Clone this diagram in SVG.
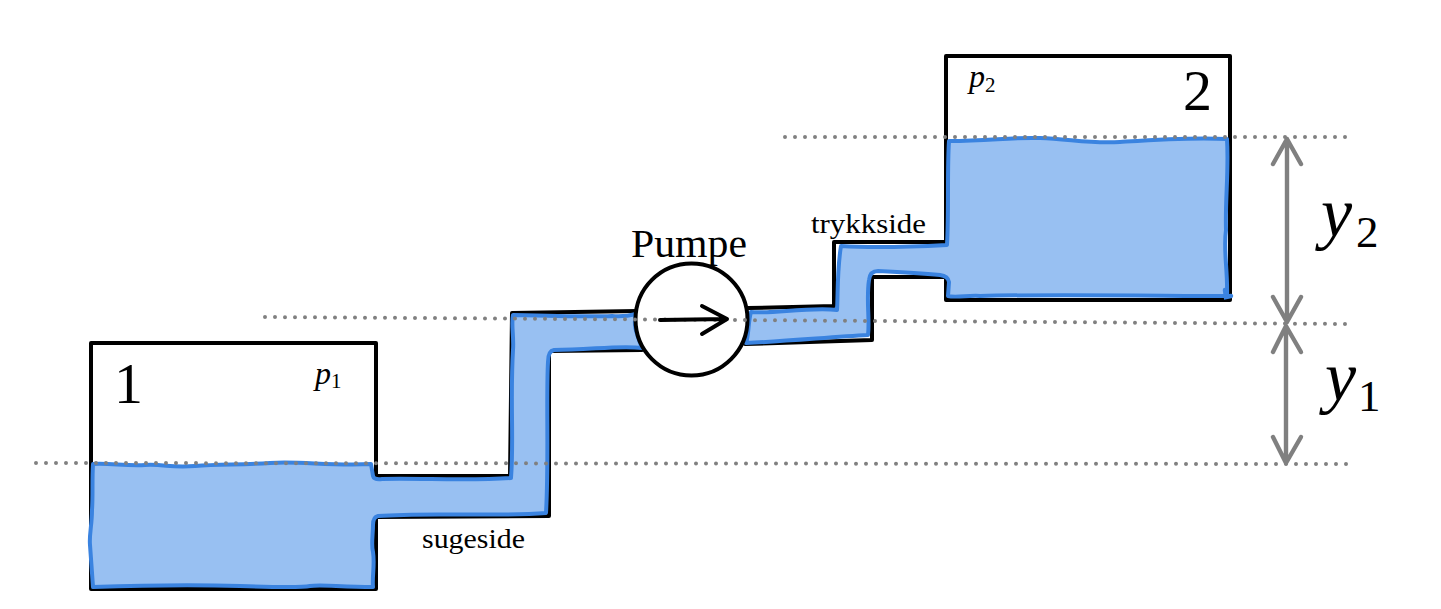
<svg xmlns="http://www.w3.org/2000/svg" width="1441" height="609" viewBox="0 0 1441 609">
<style>
.water{fill:#98c0f2;stroke:#3a83e0;stroke-width:4;stroke-linejoin:round;stroke-linecap:round}
.wall{fill:none;stroke:#000;stroke-width:4;stroke-linejoin:round;stroke-linecap:round}
.dots{fill:none;stroke:#808080;stroke-width:4;stroke-linecap:round;stroke-dasharray:0 10}
.dim{fill:none;stroke:#808080;stroke-width:4.4;stroke-linecap:round;stroke-linejoin:round}
text{font-family:"Liberation Serif","Times New Roman",serif;fill:#000}
.i{font-style:italic}
</style>
<rect width="1441" height="609" fill="#fff"/>
<g id="tank-1">
<path class="wall" d="M376 476V343H91V589H376V517"/>
<text x="114" y="403" font-size="58">1</text>
<text x="315" y="384" font-size="32" class="i">p</text>
<text x="331" y="388" font-size="21">1</text>
</g>
<g id="tank-2">
<path class="wall" d="M946 242V56H1230V300H946V277"/>
<text x="1183" y="110" font-size="58">2</text>
<text x="969" y="87" font-size="32" class="i">p</text>
<text x="985" y="92" font-size="21">2</text>
</g>
<g id="pipes">
<path class="wall" d="M376 476H510L512 313L637 311"/>
<path class="wall" d="M376 517L549 516V351L642 350"/>
<path class="wall" d="M748 308L834 306V242H946"/>
<path class="wall" d="M946 277H872V340L745 344"/>
<text x="422" y="548" font-size="28" textLength="103" lengthAdjust="spacingAndGlyphs">sugeside</text>
<text x="811" y="233" font-size="28" textLength="115" lengthAdjust="spacingAndGlyphs">trykkside</text>
</g>
<g id="water">
<path class="water" d="M93 464C110 463 125 466 145 465S170 468 195 466S240 465 270 463S330 466 371 464L373 476Q374 480 382 479C420 478 470 481 511 478C514 440 510 400 513 350C514 335 511 325 513 315C550 316 590 317 612 316Q625 317 636 314C633 325 636 332 642 348C620 345 590 350 554 350Q548 351 548 362C546 400 549 460 546 513C490 517 430 512 378 516Q373 517 373 525C373 535 371 545 373 552C375 565 372 575 373 587C340 587 320 584 310 586S270 587 240 586S150 585 93 587C92 572 91 560 90 545C89 535 92 525 92 510C93 495 92 480 93 464Z"/>
<path class="water" d="M751 312C770 314 810 307 837 310C838 295 837 270 841 246C870 248 910 247 947 245C949 210 947 170 949 141C990 141 1010 137 1040 138S1090 144 1120 142S1190 137 1227 139C1229 170 1225 200 1226 230C1223 250 1228 270 1227 296C1170 296 1050 294 980 296C970 295 955 298 948 296L949 282Q948 276 940 275C920 273 900 272 878 271Q870 271 869 280C866 300 870 320 868 335C830 337 790 341 746 343C749 335 748 322 751 312Z"/>
<path d="M1225 290L1226 297L1231 296" fill="none" stroke="#3a83e0" stroke-width="4.5" stroke-linecap="round"/>
</g>
<g id="pump">
<circle cx="691.5" cy="319.5" r="56" fill="#fff" stroke="#000" stroke-width="4"/>
<text x="631" y="257" font-size="39" textLength="116" lengthAdjust="spacingAndGlyphs">Pumpe</text>
</g>
<g id="levels">
<path class="dots" d="M36 463L1348 464"/>
<path class="dots" d="M265 317L1346 324"/>
<path class="dots" d="M785 137H1353"/>
</g>
<path id="pump-arrow" d="M660 320L727 319M702 306L727 319L702 334" fill="none" stroke="#000" stroke-width="4" stroke-linecap="round" stroke-linejoin="round"/>
<g id="connectors">
<path class="dim" d="M1287 139V322M1273 164L1287 139L1301 164M1273 297L1287 322L1301 297"/>
<path class="dim" d="M1286 326V463M1273 352L1286 326L1301 352M1273 437L1286 463L1301 437"/>
</g>
<g id="labels">
<text x="1321" y="236" font-size="70" class="i">y</text>
<text x="1356" y="247" font-size="45">2</text>
<text x="1325" y="400" font-size="70" class="i">y</text>
<text x="1358" y="411" font-size="45">1</text>
</g>
</svg>
